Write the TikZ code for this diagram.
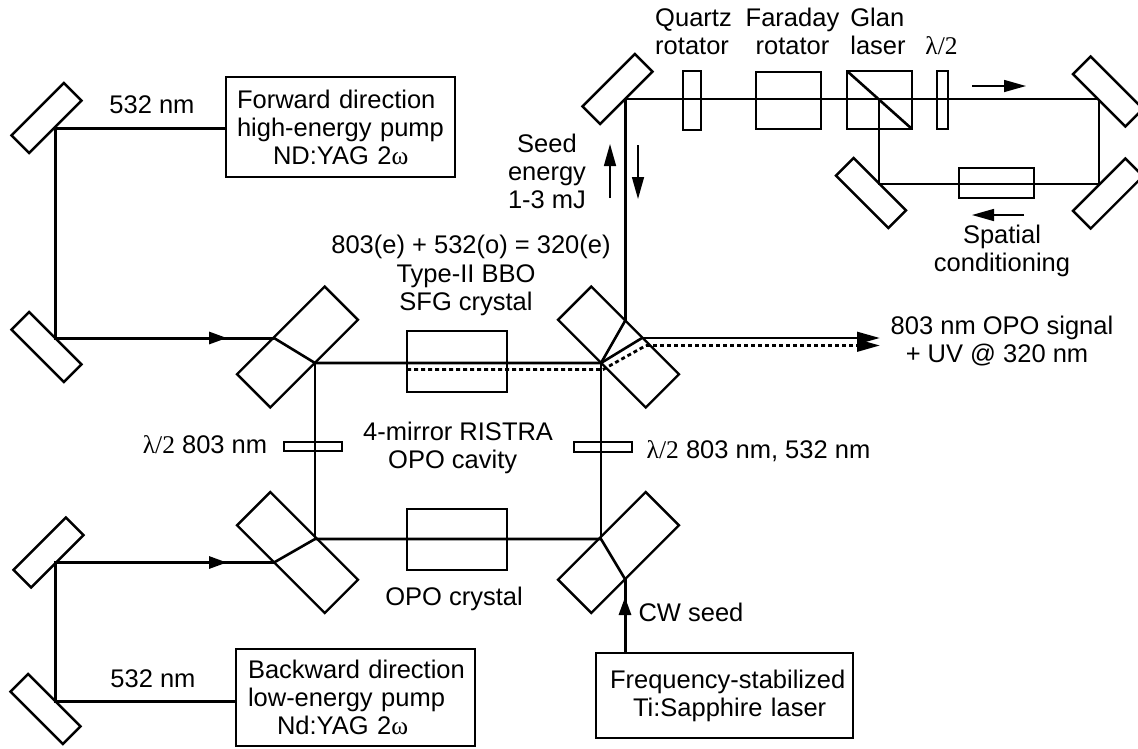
\documentclass[tikz,border=0pt]{standalone}
\usepackage{fontspec}
\setmainfont{Liberation Sans}
\newfontfamily\symb{Liberation Serif}
\usetikzlibrary{arrows.meta}

\begin{document}
\begin{tikzpicture}[
x=1pt, y=-1pt,
font=\fontsize{25.5}{28}\selectfont,
mirror/.style={draw, line width=2.4pt, inner sep=0pt, outer sep=0pt, minimum width=74pt, minimum height=25pt},
bigmirror/.style={draw, line width=2.4pt, inner sep=0pt, outer sep=0pt, minimum width=124pt, minimum height=47pt},
optic/.style={draw, line width=2.8pt, inner sep=0pt, outer sep=0pt},
caixa/.style={draw, line width=2.8pt, align=left, inner xsep=6pt, inner ysep=0pt, outer sep=0pt},
beam/.style={line width=3pt},
inner/.style={line width=2.6pt},
dashbeam/.style={line width=2.8pt, dash pattern=on 4pt off 3pt},
seta/.style={-{Triangle[length=18pt,width=12pt]}, line width=3pt},
bigseta/.style={-{Triangle[length=23pt,width=12pt]}, line width=2.8pt},
thinseta/.style={-{Triangle[length=22pt,width=12pt]}, line width=1.5pt},
base/.style={anchor=base, inner sep=0pt}
]
\useasboundingbox (0,0) rectangle (1138,748);
\node[mirror, rotate=45] (pumpa) at (46.5,118) {};
\node[mirror, rotate=-45] (pumpb) at (46.5,347) {};
\node[mirror, rotate=45] (pumpc) at (48.5,552.5) {};
\node[mirror, rotate=-45] (pumpd) at (45.5,709) {};
\node[mirror, rotate=45] (seedm) at (617.5,89) {};
\node[mirror, rotate=-45] (condnw) at (871,193) {};
\node[mirror, rotate=-45] (condne) at (1108,91.5) {};
\node[mirror, rotate=45] (condse) at (1108,193.5) {};
\node[bigmirror, rotate=45] (cavnw) at (297.5,347) {};
\node[bigmirror, rotate=-45] (cavne) at (618.5,347) {};
\node[bigmirror, rotate=-45] (cavsw) at (297.5,552.5) {};
\node[bigmirror, rotate=45] (cavse) at (618.5,552.5) {};
\node[optic, minimum width=100pt, minimum height=61pt] (sfg) at (457,361.5) {};
\node[optic, minimum width=100pt, minimum height=61pt] (opo) at (457,539.5) {};
\node[optic, minimum width=58pt, minimum height=9pt] (platel) at (313,446.5) {};
\node[optic, minimum width=58pt, minimum height=10pt] (plater) at (603,447) {};
\node[optic, minimum width=18pt, minimum height=59pt] (quartz) at (692,100.5) {};
\node[optic, minimum width=65pt, minimum height=57pt] (faraday) at (788.5,100.5) {};
\node[optic, minimum width=65pt, minimum height=58pt] (glan) at (879.5,100) {};
\node[optic, minimum width=11pt, minimum height=58pt] (platet) at (942.5,100) {};
\node[optic, minimum width=75pt, minimum height=30pt] (spatial) at (996.5,183) {};
\node[caixa, text width=217pt, minimum height=100pt] (forward) at (340.5,127) {\hspace*{5pt}Forward direction\\\hspace*{5pt}high-energy pump\\\hspace*{41pt}ND:YAG 2{\symb ω}};
\node[caixa, text width=227pt, minimum height=97pt] (backward) at (355.5,697.5) {\hspace*{6pt}Backward direction\\\hspace*{6pt}low-energy pump\\\hspace*{35pt}Nd:YAG 2{\symb ω}};
\node[caixa, text width=245pt, minimum height=85pt] (tisa) at (724.5,695.5) {\hspace*{8pt}Frequency-stabilized\\\hspace*{31pt}Ti:Sapphire laser};
\node[base] (wla) at (152,113) {532 nm};
\node[base] (wlb) at (153,687) {532 nm};
\node[align=left, inner sep=0pt] (qlab) at (693.5,31.5) {Quartz\\rotator};
\node[align=center, inner sep=0pt] (flab) at (792.5,31.5) {Faraday\\rotator};
\node[align=left, inner sep=0pt] (glab) at (878,31.5) {Glan\\laser};
\node[base] (hlab) at (941.5,54) {{\symb λ/2}};
\node[align=center, inner sep=0pt] (seedlab) at (547,171.5) {Seed\\energy\\1-3 mJ};
\node[base] (sumlab) at (471,253) {803(e) + 532(o) = 320(e)};
\node[align=center, inner sep=0pt] (typelab) at (466,290.5) {Type-II BBO\\SFG crystal};
\node[align=center, inner sep=0pt] (spatlab) at (1002,251) {Spatial\\conditioning};
\node[align=center, inner sep=0pt] (outlab) at (1002,341) {803 nm OPO signal\\+ UV @ 320 nm\hspace*{10pt}};
\node[align=left, inner sep=0pt, anchor=west] (cavlab) at (363,447.5) {4-mirror RISTRA\\\hspace*{25pt}OPO cavity};
\node[base] (plab) at (205,453) {{\symb λ/2} 803 nm};
\node[base] (qlabr) at (758.5,458) {{\symb λ/2} 803 nm, 532 nm};
\node[base] (opolab) at (454,605) {OPO crystal};
\node[base] (cwlab) at (691,621) {CW seed};
\coordinate (hita) at (55,128);
\coordinate (hitb) at (55,338);
\coordinate (hitc) at (55,562.5);
\coordinate (hitd) at (55,701);
\coordinate (tipa) at (227,338);
\coordinate (tipc) at (227,562.5);
\coordinate (nwin) at (274,338);
\coordinate (nwout) at (315,363);
\coordinate (swin) at (274,562.5);
\coordinate (swout) at (315,539);
\coordinate (nein) at (601,363);
\coordinate (neup) at (625,321);
\coordinate (neout) at (642,338);
\coordinate (seout) at (601,539);
\coordinate (sein) at (625,579);
\coordinate (cwtip) at (625,597);
\coordinate (seedhit) at (625,99);
\coordinate (glanhit) at (879,99);
\coordinate (nehit) at (1099,99);
\coordinate (sehit) at (1099,184);
\coordinate (nwhit) at (879,184);
\coordinate (outa) at (880,338);
\coordinate (dasha) at (407,369.5);
\coordinate (dashb) at (603,369.5);
\coordinate (dashc) at (646,345.5);
\coordinate (outb) at (880,345.5);
\coordinate (upa) at (610,198);
\coordinate (upb) at (610,144);
\coordinate (downa) at (638,145);
\coordinate (downb) at (638,199);
\coordinate (fwda) at (972,86);
\coordinate (fwdb) at (1026,86);
\coordinate (backa) at (1024,215);
\coordinate (backb) at (972,215);
\draw[beam] (forward.west |- hita) -- (hita) -- (hitb) -- (nwin);
\draw[seta] (hitb) -- (tipa);
\draw[beam] (backward.west |- hitd) -- (hitd) -- (hitc) -- (swin);
\draw[seta] (hitc) -- (tipc);
\draw[inner] (nwin) -- (nwout) -- (nein);
\draw[inner] (swin) -- (swout) -- (seout);
\draw[inner] (nwout) -- (swout);
\draw[inner] (nein) -- (seout);
\draw[inner] (nein) -- (neup);
\draw[inner] (nein) -- (neout);
\draw[inner] (seout) -- (sein);
\draw[beam] (tisa.north -| sein) -- (sein);
\draw[seta] (tisa.north -| sein) -- (cwtip);
\draw[beam] (neup) -- (seedhit);
\draw[inner] (seedhit) -- (nehit);
\draw[inner] (nehit) -- (sehit) -- (nwhit) -- (glanhit);
\draw[inner] (glan.north west) -- (glan.south east);
\draw[bigseta] (neout) -- (outa);
\draw[dashbeam] (dasha) -- (dashb) -- (dashc);
\draw[dashbeam, -{Triangle[length=23pt,width=12pt]}] (dashc) -- (outb);
\draw[thinseta] (upa) -- (upb);
\draw[thinseta] (downa) -- (downb);
\draw[thinseta] (fwda) -- (fwdb);
\draw[thinseta] (backa) -- (backb);
\end{tikzpicture}
\end{document}
